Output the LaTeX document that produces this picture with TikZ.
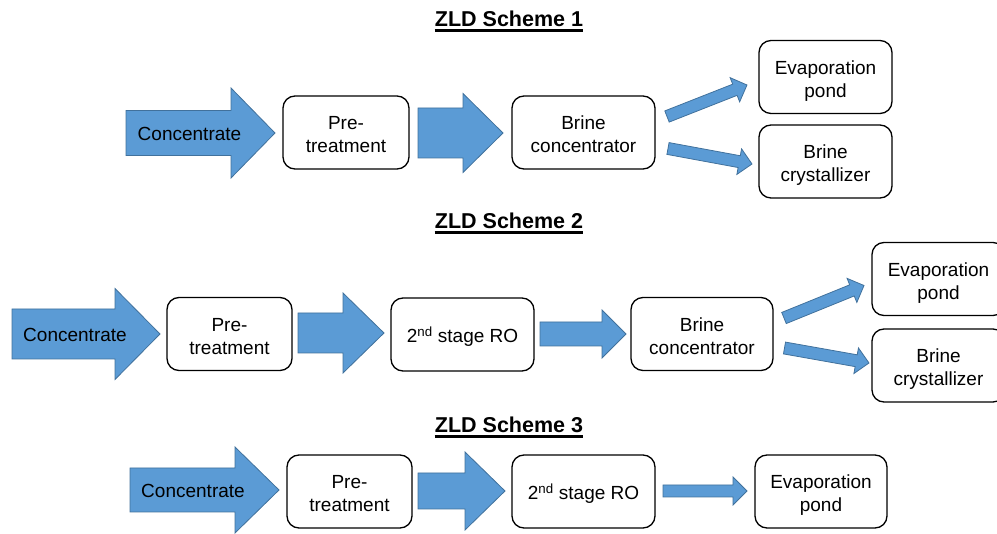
\documentclass[tikz,border=0pt]{standalone}
\usepackage{fontspec}
\setmainfont{Liberation Sans}
\definecolor{arrowfill}{HTML}{5B9BD5}
\definecolor{arrowedge}{HTML}{41719C}
\tikzset{
  stagebox/.style={draw=black, line width=1.3pt, rounded corners=12pt, fill=white,
    align=center, inner sep=0pt, minimum height=73pt,
    font=\fontsize{19}{23}\selectfont},
  schemetitle/.style={font=\fontsize{21.5}{25}\selectfont\bfseries, anchor=base, inner sep=0pt},
  flowarrow/.style={fill=arrowfill, draw=arrowedge, line width=0.8pt, line join=miter},
  arrowlabel/.style={font=\fontsize{19}{23}\selectfont, inner sep=0pt},
  titleline/.style={line width=2.2pt},
}
% two centred lines with fixed vertical metrics
\newcommand\twolines[2]{\rule{0pt}{17.5pt}#1\\\smash{#2}}
% block arrow: x1 y1 (tail centre), x2 y2 (tip), shaft half width, head half width, head length
\newcommand\blockarrow[7]{%
  \pgfmathsetmacro\baang{-atan2((#4)-(#2),(#3)-(#1))}%
  \pgfmathsetmacro\balen{veclen((#3)-(#1),(#4)-(#2))}%
  \pgfmathsetmacro\babase{\balen-(#7)}%
  \begin{scope}[shift={(#1,#2)}, rotate=\baang]
    \draw[flowarrow] (0,-#5) -- (\babase,-#5) -- (\babase,-#6) -- (\balen,0)
      -- (\babase,#6) -- (\babase,#5) -- (0,#5) -- cycle;
  \end{scope}}
\begin{document}
\begin{tikzpicture}[x=1pt,y=-1pt]
\useasboundingbox (0,0) rectangle (997,534);
\clip (0,0) rectangle (997,534);

% ---------------- Scheme 1 ----------------
\node[schemetitle] (t1) at (509,26.7) {ZLD Scheme 1};
\draw[titleline] ([yshift=-3.8pt]t1.base west) -- ([yshift=-3.8pt]t1.base east);

\blockarrow{126}{133}{275}{133}{22.5}{45}{44}
\node[arrowlabel] (s1in) at (189.5,134) {Concentrate};
\node[stagebox, minimum width=126pt] (s1pre) at (346,132.5) {\twolines{Pre-}{treatment}};
\blockarrow{418}{133}{503}{133}{25}{39.5}{40}
\node[stagebox, minimum width=143pt] (s1bc) at (583.5,132.5) {\twolines{Brine}{concentrator}};
\blockarrow{667}{116.5}{747}{85}{6}{13}{13}
\blockarrow{668}{148.5}{752}{164}{6}{13}{13}
\node[stagebox, minimum width=133pt] (s1ep) at (825.5,77) {\twolines{Evaporation}{pond}};
\node[stagebox, minimum width=133pt] (s1cr) at (825.5,161.5) {\twolines{Brine}{crystallizer}};

% ---------------- Scheme 2 ----------------
\node[schemetitle] (t2) at (509,228.7) {ZLD Scheme 2};
\draw[titleline] ([yshift=-3.8pt]t2.base west) -- ([yshift=-3.8pt]t2.base east);

\blockarrow{12}{334}{160}{334}{25}{45.5}{45}
\node[arrowlabel] (s2in) at (75,335) {Concentrate};
\node[stagebox, minimum width=125pt] (s2pre) at (229.5,334) {\twolines{Pre-}{treatment}};
\blockarrow{298}{333}{384}{333}{20}{40}{41}
\node[stagebox, minimum width=143pt, text depth=0pt] (s2ro) at (462.5,334.5) {2\textsuperscript{nd} stage RO};
\blockarrow{540}{334}{626}{334}{12}{24}{24}
\node[stagebox, minimum width=142pt] (s2bc) at (702,334) {\twolines{Brine}{concentrator}};
\blockarrow{784}{318}{864}{285.5}{6}{13}{13}
\blockarrow{784.5}{348}{869}{363}{6}{13}{13}
\node[stagebox, minimum width=133pt] (s2ep) at (938.5,279) {\twolines{Evaporation}{pond}};
\node[stagebox, minimum width=133pt] (s2cr) at (938.5,365.5) {\twolines{Brine}{crystallizer}};

% ---------------- Scheme 3 ----------------
\node[schemetitle] (t3) at (509,432.7) {ZLD Scheme 3};
\draw[titleline] ([yshift=-3.8pt]t3.base west) -- ([yshift=-3.8pt]t3.base east);

\blockarrow{130}{490}{279}{490}{22}{43}{44}
\node[arrowlabel] (s3in) at (193,491) {Concentrate};
\node[stagebox, minimum width=125pt] (s3pre) at (349.5,491.5) {\twolines{Pre-}{treatment}};
\blockarrow{418}{491}{505}{491}{18}{39}{40}
\node[stagebox, minimum width=143pt, text depth=0pt] (s3ro) at (583.5,491.5) {2\textsuperscript{nd} stage RO};
\blockarrow{663}{491}{747}{491}{6}{14}{14}
\node[stagebox, minimum width=132pt] (s3ep) at (821,491.5) {\twolines{Evaporation}{pond}};
\end{tikzpicture}
\end{document}
